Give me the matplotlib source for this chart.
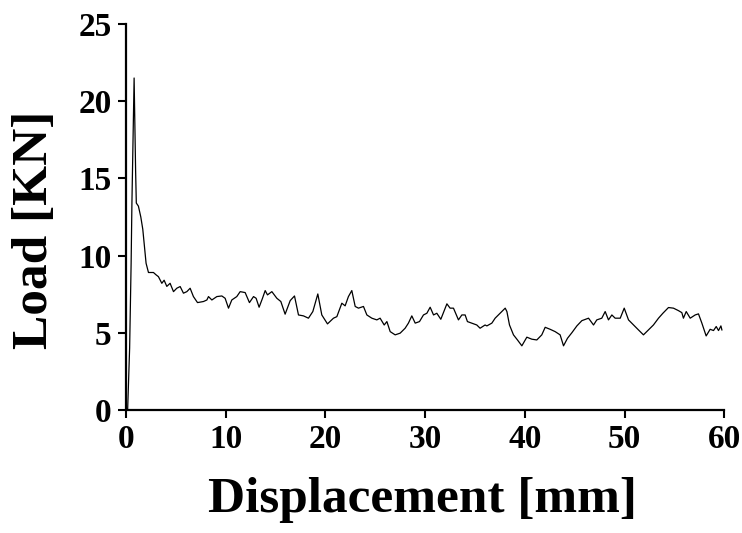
import matplotlib
matplotlib.use('Agg')
import matplotlib.pyplot as plt

# -------------------- Data --------------------
displacement = [0.15, 0.35, 0.5, 0.58, 0.8, 0.95, 1.02, 1.23, 1.47, 1.67, 1.84, 2.0, 2.24,
                2.74, 3.0, 3.24, 3.58, 3.81, 4.08, 4.41, 4.75, 5.08, 5.42, 5.75, 6.09, 6.42,
                6.75, 7.16, 7.76, 8.1, 8.26, 8.6, 9.1, 9.6, 9.93, 10.27, 10.6, 11.1, 11.44,
                11.94, 12.37, 12.78, 13.04, 13.34, 13.68, 13.95, 14.18, 14.62, 15.12, 15.52,
                15.95, 16.46, 16.89, 17.29, 17.79, 18.29, 18.73, 19.23, 19.63, 20.2, 20.8,
                21.14, 21.64, 21.97, 22.3, 22.64, 22.98, 23.31, 23.81, 24.15, 24.65, 25.15,
                25.48, 25.89, 26.16, 26.49, 26.99, 27.49, 27.99, 28.32, 28.66, 29.0, 29.43,
                29.83, 30.17, 30.5, 30.84, 31.17, 31.57, 32.18, 32.5, 32.84, 33.34, 33.68,
                34.01, 34.24, 34.68, 35.18, 35.51, 36.01, 36.19, 36.69, 37.02, 37.52, 38.03,
                38.2, 38.46, 38.86, 39.26, 39.7, 40.2, 40.7, 41.2, 41.7, 42.04, 42.54, 43.04,
                43.54, 43.88, 44.28, 44.72, 45.22, 45.72, 46.39, 46.89, 47.22, 47.72, 48.06,
                48.39, 48.73, 49.06, 49.57, 49.97, 50.4, 50.9, 51.4, 51.9, 52.4, 52.9, 53.41,
                53.85, 54.41, 54.91, 55.41, 55.75, 55.91, 56.19, 56.59, 57.09, 57.42, 57.76,
                58.19, 58.59, 58.93, 59.2, 59.43, 59.67, 59.77]
load = [0.0, 4.0, 9.5, 13.4, 21.5, 15.5, 13.4, 13.2, 12.5, 11.7, 10.6, 9.5, 8.9,
        8.9, 8.75, 8.63, 8.2, 8.4, 8.0, 8.2, 7.66, 7.88, 7.99, 7.56, 7.66, 7.88,
        7.34, 6.95, 7.02, 7.12, 7.34, 7.12, 7.34, 7.38, 7.23, 6.59, 7.12, 7.34, 7.66,
        7.6, 6.95, 7.34, 7.23, 6.65, 7.23, 7.73, 7.45, 7.66, 7.23, 7.02,
        6.2, 7.08, 7.38, 6.15, 6.09, 5.94, 6.37, 7.51, 6.15, 5.57, 5.94,
        6.04, 6.91, 6.74, 7.34, 7.73, 6.7, 6.59, 6.7, 6.15, 5.94, 5.83,
        5.94, 5.5, 5.72, 5.07, 4.86, 4.97, 5.29, 5.62, 6.09, 5.62, 5.72,
        6.15, 6.26, 6.65, 6.15, 6.26, 5.87, 6.87, 6.59, 6.59, 5.83, 6.15,
        6.15, 5.72, 5.62, 5.5, 5.29, 5.5, 5.44, 5.62, 5.94, 6.26, 6.59,
        6.37, 5.5, 4.86, 4.53, 4.15, 4.71, 4.58, 4.53, 4.86, 5.35, 5.22, 5.07,
        4.86, 4.15, 4.64, 5.0, 5.44, 5.78, 5.94, 5.5, 5.83, 5.94, 6.37,
        5.83, 6.15, 5.94, 5.94, 6.59, 5.83, 5.5, 5.18, 4.86, 5.18, 5.5, 5.94,
        6.26, 6.63, 6.59, 6.43, 6.3, 5.94, 6.37, 5.94, 6.15, 6.22, 5.62,
        4.79, 5.22, 5.14, 5.4, 5.14, 5.44, 5.18]

x_ticks = [0, 10, 20, 30, 40, 50, 60]
y_ticks = [0, 5, 10, 15, 20, 25]

# -------------------- Plot --------------------
plt.rcParams['font.family'] = ['Liberation Serif', 'DejaVu Serif']
plt.rcParams['font.weight'] = 'bold'

fig = plt.figure(figsize=(7.42, 5.33), dpi=100)
ax = fig.add_axes([0.170, 0.231, 0.806, 0.724])

ax.plot(displacement, load, color='black', linewidth=0.9)

ax.set_xlim(0, 60)
ax.set_ylim(0, 25)
ax.set_xticks(x_ticks)
ax.set_yticks(y_ticks)

for side in ['top', 'right']:
    ax.spines[side].set_visible(False)
for side in ['left', 'bottom']:
    ax.spines[side].set_linewidth(1.6)

ax.tick_params(direction='out', length=5.5, width=1.5, labelsize=24, pad=5)
for lbl in ax.get_xticklabels() + ax.get_yticklabels():
    lbl.set_fontweight('bold')

ax.set_xlabel("Displacement [mm]", fontsize=37, fontweight='bold', va='center')
ax.xaxis.set_label_coords(0.495, -0.233)
ax.set_ylabel("Load [KN]", fontsize=37, fontweight='bold', va='center')
ax.yaxis.set_label_coords(-0.152, 0.466)

fig.savefig("out.png", dpi=100)
plt.close(fig)
